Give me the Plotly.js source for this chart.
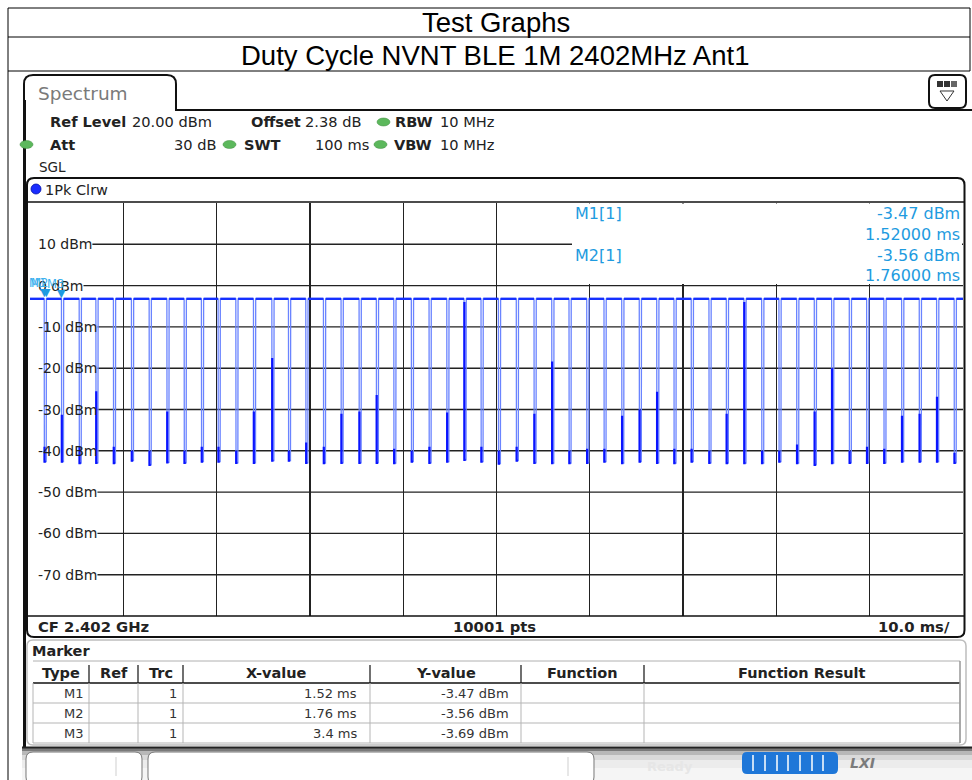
<!DOCTYPE html>
<html><head><meta charset="utf-8">
<script src="https://cdn.plot.ly/plotly-3.0.1.min.js"></script>
<style>html,body{margin:0;padding:0;background:#fff;}#chart{width:972px;height:780px;}</style>
</head><body><div id="chart"></div>
<script>
// ---------------- DATA ----------------
const dipTimes = [1.64,3.49,5.39,7.18,9.06,10.99,12.89,14.79,16.64,18.49,20.28,22.18,24.07,
  26.04,27.82,29.68,31.57,33.46,35.39,37.24,39.11,40.99,42.89,44.79,46.64,48.46,
  50.32,52.24,54.14,56.04,57.89,59.79,61.64,63.54,65.42,67.29,69.14,70.99,72.89,74.75,
  76.64,78.54,80.39,82.29,84.18,86.04,87.93,89.79,91.64,93.54,95.43,97.29,99.17];
const dipMid = [-39,-31.3,-39,-25.6,-39,-40,-40,-30.5,-40,-39,-39,-40,-30.5,
  -17.5,-40,-38,-39,-31,-30.5,-26.5,-39.5,-40,-39,-30.7,-4,-39,
  -40,-39,-31,-18.4,-40,-39.5,-39.5,-31.5,-30,-25.7,-39.5,-39.5,-40,-31,
  -4,-40,-40,-38.5,-30.5,-20,-40,-39,-39.5,-31.5,-31,-26.9,-40.5];
const dipBottom = [-42.6,-42.6,-43.0,-42.9,-43.0,-42.4,-43.4,-42.8,-42.9,-42.6,-42.6,-42.9,-42.9,
  -42.4,-42.4,-42.9,-43.0,-42.9,-42.9,-42.9,-43.0,-42.6,-42.9,-42.6,-42.2,-42.6,
  -43.1,-42.4,-42.9,-43.0,-43.0,-42.9,-42.6,-43.0,-42.6,-42.9,-43.0,-42.6,-42.9,-43.0,
  -43.0,-43.0,-42.6,-43.0,-43.4,-43.0,-42.9,-42.9,-42.9,-42.6,-42.6,-42.6,-42.9];
const topLevel = -3.2;
const xStart = 0, xEnd = 100;
const markerNames = ['M1','M2','M3'];
const markerX = [1.52, 1.76, 3.4];
const markerY = [-3.47, -3.56, -3.69];
const yTickVals = [10,0,-10,-20,-30,-40,-50,-60,-70];
const yTickText = ['10 dBm','0 dBm','-10 dBm','-20 dBm','-30 dBm','-40 dBm','-50 dBm','-60 dBm','-70 dBm'];
const tableHeader = ['Type','Ref','Trc','X-value','Y-value','Function','Function Result'];
const tableType = ['M1','M2','M3'];
const tableTrc = ['1','1','1'];
const tableX = ['1.52 ms','1.76 ms','3.4 ms'];
const tableY = ['-3.47 dBm','-3.56 dBm','-3.69 dBm'];

// ---------------- GEOMETRY HELPERS ----------------
const L=30, R=963, T=203, B=616, W=R-L, H=B-T;
const px = x => (x-L)/W, py = y => (B-y)/H;
const shapes=[], ann=[];
const FONT='DejaVu Sans';
function line(x0,y0,x1,y1,color,width,layer){shapes.push({type:'line',xref:'paper',yref:'paper',x0:px(x0),y0:py(y0),x1:px(x1),y1:py(y1),line:{color:color,width:width},layer:layer||'above'});}
function rect(x0,y0,x1,y1,fill,lc,lw){shapes.push({type:'rect',xref:'paper',yref:'paper',x0:px(x0),y0:py(y1),x1:px(x1),y1:py(y0),fillcolor:fill||'rgba(0,0,0,0)',line:{color:lc||'rgba(0,0,0,0)',width:lw||0},layer:'above'});}
function ell(x0,y0,x1,y1,fill,lc,lw){shapes.push({type:'circle',xref:'paper',yref:'paper',x0:px(x0),y0:py(y1),x1:px(x1),y1:py(y0),fillcolor:fill,line:{color:lc||fill,width:lw||0.5},layer:'above'});}
function P(x,y){return px(x).toFixed(5)+','+py(y).toFixed(5);}
function pathS(d,fill,lc,lw){shapes.push({type:'path',xref:'paper',yref:'paper',path:d,fillcolor:fill||'rgba(0,0,0,0)',line:{color:lc||'rgba(0,0,0,0)',width:lw||0},layer:'above'});}
function rrectD(x0,y0,x1,y1,r){return 'M'+P(x0+r,y0)+' L'+P(x1-r,y0)+' Q'+P(x1,y0)+' '+P(x1,y0+r)+' L'+P(x1,y1-r)+' Q'+P(x1,y1)+' '+P(x1-r,y1)+' L'+P(x0+r,y1)+' Q'+P(x0,y1)+' '+P(x0,y1-r)+' L'+P(x0,y0+r)+' Q'+P(x0,y0)+' '+P(x0+r,y0)+' Z';}
function text(x,y,s,o){o=o||{};ann.push({xref:'paper',yref:'paper',x:px(x),y:py(y),xanchor:o.anchor||'left',yanchor:'middle',showarrow:false,text:o.bold?'<b>'+s+'</b>':s,font:{family:o.family||FONT,size:o.size||13,color:o.color||'#222'}});}

// ---------------- PAGE FRAME (report table) ----------------
line(8,8,970,8,'#000',1); line(8,37,970,37,'#000',1); line(8,71,970,71,'#000',1);
line(8,8,8,780,'#000',1); line(970,8,970,71,'#000',1);
text(496,22,'Test Graphs',{family:'Liberation Sans, Arial',size:27.5,color:'#000',anchor:'center'});
text(495,55,'Duty Cycle NVNT BLE 1M 2402MHz Ant1',{family:'Liberation Sans, Arial',size:27.5,color:'#000',anchor:'center'});

// ---------------- INSTRUMENT SCREEN ----------------
pathS('M'+P(24,110)+' L'+P(24,84)+' Q'+P(24,75)+' '+P(33,75)+' L'+P(167,75)+' Q'+P(176,75)+' '+P(176,84)+' L'+P(176,110)+' L'+P(972,110),null,'#111',2);
line(24.5,100,24.5,748,'#111',3);
text(36,93,'Spectrum',{size:18.5,color:'#7a7a7a'});
pathS(rrectD(929,75,966,108,6),'#fff','#111',2);
rect(937,81,943,87,'#333'); rect(944,81,950,87,'#333'); rect(951,81,957,87,'#666');
pathS('M'+P(940,91)+' L'+P(954,91)+' L'+P(947,101)+' Z',null,'#333',1);
// header info
const g='#5cb85c', gd='#3d8b3d', HS=14.6;
text(48,122,'Ref Level',{bold:true,size:HS}); text(130,122,'20.00 dBm',{size:HS});
text(249,122,'Offset',{bold:true,size:HS}); text(303,122,'2.38 dB',{size:HS});
ell(377,118,390,126,g,gd,0.5); text(393,122,'RBW',{bold:true,size:HS}); text(438,122,'10 MHz',{size:HS});
ell(20,140.5,33,148.5,g,gd,0.5); text(48,144,'Att',{bold:true,size:HS}); text(218,144,'30 dB',{size:HS,anchor:'right'});
ell(223,140.5,236,148.5,g,gd,0.5); text(242,144,'SWT',{bold:true,size:HS}); text(313,144,'100 ms',{size:HS});
ell(374,140.5,387,148.5,g,gd,0.5); text(392,144,'VBW',{bold:true,size:HS}); text(438,144,'10 MHz',{size:HS});
text(37,167,'SGL',{size:13.5});
// graph box
pathS(rrectD(27,178,964.5,637,7),null,'#111',2);
line(28,202,964,202,'#111',1.5);
line(28,616,964,616,'#111',1.5);
ell(31,184,41,194,'#1a2cff','#0010aa',0.8);
text(43,190,'1Pk Clrw',{size:14.5});
// marker info area (covers grid)
rect(572,203.5,962,284,'#fff');
const mc='#1e9be0', MS=16;
text(573,214,'M1[1]',{size:MS,color:mc});
text(962,214,'-3.47 dBm',{size:MS,color:mc,anchor:'right'});
text(962,234,'1.52000 ms',{size:MS,color:mc,anchor:'right'});
text(573,255,'M2[1]',{size:MS,color:mc});
text(962,255,'-3.56 dBm',{size:MS,color:mc,anchor:'right'});
text(962,275,'1.76000 ms',{size:MS,color:mc,anchor:'right'});
// CF row
text(36,626,'CF 2.402 GHz',{bold:true,size:14.8});
text(494,626,'10001 pts',{bold:true,size:14.8,anchor:'center'});
text(952,626,'10.0 ms/',{bold:true,size:14.8,anchor:'right'});

// y tick labels + horizontal gridlines measured against label width
const YS=14;
const cv=document.createElement('canvas').getContext('2d');
cv.font=YS+'px "DejaVu Sans"';
yTickVals.forEach((v,i)=>{
  const w=cv.measureText(yTickText[i]).width;
  ann.push({xref:'paper',yref:'y',x:px(36),y:v,xanchor:'left',yanchor:'middle',showarrow:false,text:yTickText[i],font:{family:FONT,size:YS,color:'#222'}});
  shapes.push({type:'line',xref:'paper',yref:'y',x0:px(36+w+2),x1:1,y0:v,y1:v,line:{color:'#222',width:1.4},layer:'below'});
});

// marker panel + table
pathS(rrectD(27,640,966,745,6),null,'#bdbdbd',1.5);
text(30,651,'Marker',{bold:true,size:14.5});
const colX=[33,89,138,183,370,521,644,960];
line(33,661,960,661,'#b0b0b0',1);
line(33,683,960,683,'#111',1.5);
[703,723,743].forEach(y=>line(33,y,960,y,'#b5b5b5',1));
colX.forEach((x,i)=>{
  if(i>0&&i<colX.length-1){line(x,665,x,683,'#111',1.2);}
  line(x,683,x,743,'#b5b5b5',1);
});
line(960,661,960,743,'#999',1.5);
tableHeader.forEach((h,i)=>text((colX[i]+colX[i+1])/2,673,h,{bold:true,size:14.5,anchor:'center'}));
[693,713,733].forEach((y,r)=>{
  text(86,y,tableType[r],{size:13,anchor:'right',color:'#333'});
  text(179,y,tableTrc[r],{size:13,anchor:'right',color:'#333'});
  text(359,y,tableX[r],{size:13,anchor:'right',color:'#333'});
  text(511,y,tableY[r],{size:13,anchor:'right',color:'#333'});
});

// bottom status bar
const bands=[[748,751,'#7a7a7a'],[751,755,'#b8b8b8'],[755,760,'#dadada'],[760,768,'#ececec'],[768,780,'#f5f5f5']];
bands.forEach(b=>rect(22,b[0],972,b[1],b[2]));
line(22,747.5,972,747.5,'#222',2);
pathS(rrectD(26,752,142,784,7),'#fff','#777',1);
line(116,757,116,776,'#cfcfcf',1);
pathS(rrectD(148,752,594,784,7),'#fff','#777',1);
line(568,757,568,776,'#cfcfcf',1);
text(645,766,'Ready',{bold:true,size:13,color:'#e6e6e6'});
pathS(rrectD(742,752,838,774,5),'#1f77d8',null,0);
[753,765,777,788,800,812,823].forEach(x=>line(x,755,x,771,'#ffffff',1.5));
text(848,763,'<i>LXI</i>',{bold:true,size:14,color:'#7b7b7b'});

// ---------------- TRACE ----------------
const xl=[xStart], yl=[topLevel];
const xp=[xStart], yp=[topLevel];
const xd=[], yd=[];
dipTimes.forEach((t,k)=>{
  xl.push(t-0.12,t-0.1,t+0.1,t+0.12); yl.push(topLevel,dipBottom[k],dipBottom[k],topLevel);
  xp.push(t-0.12,null,t+0.12); yp.push(topLevel,null,topLevel);
  xd.push(t-0.08,t-0.08,t+0.06,null); yd.push(dipMid[k],dipBottom[k],dipBottom[k],null);
});
xl.push(xEnd); yl.push(topLevel); xp.push(xEnd); yp.push(topLevel);

// marker symbols (triangles + labels)
markerX.forEach((x,i)=>{
  ann.push({xref:'x',yref:'y',x:x,y:markerY[i],xanchor:'center',yanchor:'bottom',showarrow:false,text:'▼',font:{family:FONT,size:11,color:mc},yshift:-1});
  ann.push({xref:'x',yref:'y',x:x,y:markerY[i],xanchor:'right',yanchor:'bottom',showarrow:false,text:markerNames[i],font:{family:FONT,size:11.5,color:'#3ab0ee'},yshift:8,xshift:4});
});

const data=[
  {x:xl,y:yl,mode:'lines',line:{color:'#6a84ff',width:1.3},hoverinfo:'skip',showlegend:false},
  {x:xp,y:yp,mode:'lines',line:{color:'#1530ff',width:2.4},connectgaps:false,hoverinfo:'skip',showlegend:false},
  {x:xd,y:yd,mode:'lines',line:{color:'#0a14ff',width:2.2},connectgaps:false,hoverinfo:'skip',showlegend:false}
];
const layout={
  width:972,height:780,
  margin:{l:L,r:972-R,t:T,b:780-B,autoexpand:false},
  paper_bgcolor:'#fff',plot_bgcolor:'#fff',showlegend:false,
  xaxis:{range:[xStart,xEnd],dtick:10,tick0:0,showgrid:true,gridcolor:'#222',gridwidth:1.4,zeroline:false,showline:false,showticklabels:false,ticks:'',fixedrange:true},
  yaxis:{range:[-80,20],showgrid:false,zeroline:false,showline:false,showticklabels:false,ticks:'',fixedrange:true},
  shapes:shapes,annotations:ann
};
Plotly.newPlot('chart',data,layout,{displayModeBar:false,staticPlot:true});
</script></body></html>
